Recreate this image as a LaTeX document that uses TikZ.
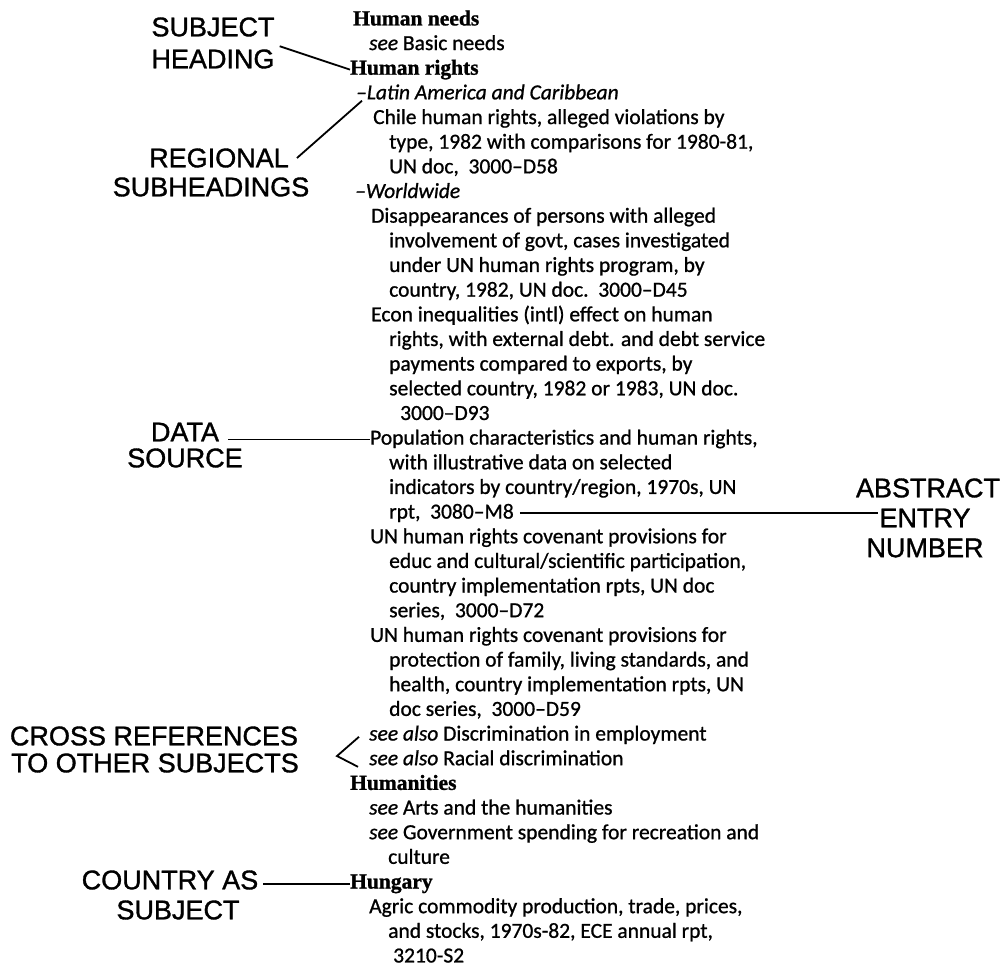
\documentclass[tikz,border=0pt]{standalone}
\usepackage{fontspec}
\setmainfont{Carlito}[UprightFeatures={FakeBold=0.9},ItalicFeatures={FakeBold=0.9}]
\newfontfamily\hdfam{Liberation Serif}[BoldFeatures={FakeBold=1.2}]
\newfontfamily\lbfam{Liberation Sans}[UprightFeatures={FakeBold=1.2}]
\usetikzlibrary{calc}
\newcommand\hd[1]{{\hdfam\bfseries #1}}
\begin{document}
\begin{tikzpicture}[x=1pt,y=-1pt,
    idx/.style={anchor=mid west,inner sep=0pt,font=\fontsize{21.5}{24}\selectfont},
    lbl/.style={font=\lbfam\fontsize{27}{30}\selectfont,inner sep=1pt},
    conn/.style={line width=1.8pt}]
  \useasboundingbox (0,0) rectangle (1003,970);
  % index column, one node per printed line
  \foreach \i/\x/\t in {
      0/353/{\hd{Human needs}},
      1/369/{\textit{see} Basic needs},
      2/350/{\hd{Human rights}},
      3/356/{\textit{–Latin America and Caribbean}},
      4/373/{Chile human rights, alleged violations by},
      5/389/{type, 1982 with comparisons for 1980-81,},
      6/389/{UN doc,\ \ 3000–D58},
      7/355/{\textit{–Worldwide}},
      8/371/{Disappearances of persons with alleged},
      9/389/{involvement of govt, cases investigated},
      10/389/{under UN human rights program, by},
      11/389/{country, 1982, UN doc.\ \ 3000–D45},
      12/371/{Econ inequalities (intl) effect on human},
      13/389/{rights, with external debt. and debt service},
      14/389/{payments compared to exports, by},
      15/389/{selected country, 1982 or 1983, UN doc.},
      16/400/{3000–D93},
      17/370/{Population characteristics and human rights,},
      18/389/{with illustrative data on selected},
      19/389/{indicators by country/region, 1970s, UN},
      20/389/{rpt,\ \ 3080–M8},
      21/370/{UN human rights covenant provisions for},
      22/389/{educ and cultural/scientific participation,},
      23/389/{country implementation rpts, UN doc},
      24/389/{series,\ \ 3000–D72},
      25/370/{UN human rights covenant provisions for},
      26/389/{protection of family, living standards, and},
      27/389/{health, country implementation rpts, UN},
      28/389/{doc series,\ \ 3000–D59},
      29/369/{\textit{see also} Discrimination in employment},
      30/369/{\textit{see also} Racial discrimination},
      31/350/{\hd{Humanities}},
      32/369/{\textit{see} Arts and the humanities},
      33/369/{\textit{see} Government spending for recreation and},
      34/388/{culture},
      35/350/{\hd{Hungary}},
      36/369/{Agric commodity production, trade, prices,},
      37/388/{and stocks, 1970s-82, ECE annual rpt,},
      38/393/{3210-S2}} {
    \node[idx] (l\i) at (\x,{23+24.66*\i}) {\t};
  }
  % callout labels
  \node[lbl] (subj) at (213,27) {SUBJECT};
  \node[lbl] (head) at (213,59) {HEADING};
  \node[lbl] (reg) at (219,158) {REGIONAL};
  \node[lbl] (subh) at (211,187) {SUBHEADINGS};
  \node[lbl] (data) at (185,432) {DATA};
  \node[lbl] (src) at (185,458) {SOURCE};
  \node[lbl] (abs) at (928,488) {ABSTRACT};
  \node[lbl] (entry) at (925,518) {ENTRY};
  \node[lbl] (numb) at (925,548) {NUMBER};
  \node[lbl] (cross) at (154,736) {CROSS REFERENCES};
  \node[lbl] (other) at (155,763) {TO OTHER SUBJECTS};
  \node[lbl] (ctry) at (170,880) {COUNTRY AS};
  \node[lbl] (csubj) at (178,910) {SUBJECT};
  % leader lines
  \draw[conn] ($(head.north east)+(4,-2)$) -- (l2.west);
  \draw[conn] ($(reg.east)+(7,0)$) -- ($(l3.south west)+(6,1)$);
  \draw[conn] ($(data.south east)+(8,-3)$) -- ($(data.south east -| l17.west)+(0,-3)$);
  \draw[conn,shorten <=6pt] (l20.east) -- (l20.east -| entry.west);
  \coordinate (xv) at (337,756);
  \draw[conn] ($(l29.west)+(-10,2)$) -- (xv) -- ($(l30.west)+(-11,9)$);
  \draw[conn] ($(ctry.east |- l35.west)+(4,0)$) -- (l35.west);
\end{tikzpicture}
\end{document}
